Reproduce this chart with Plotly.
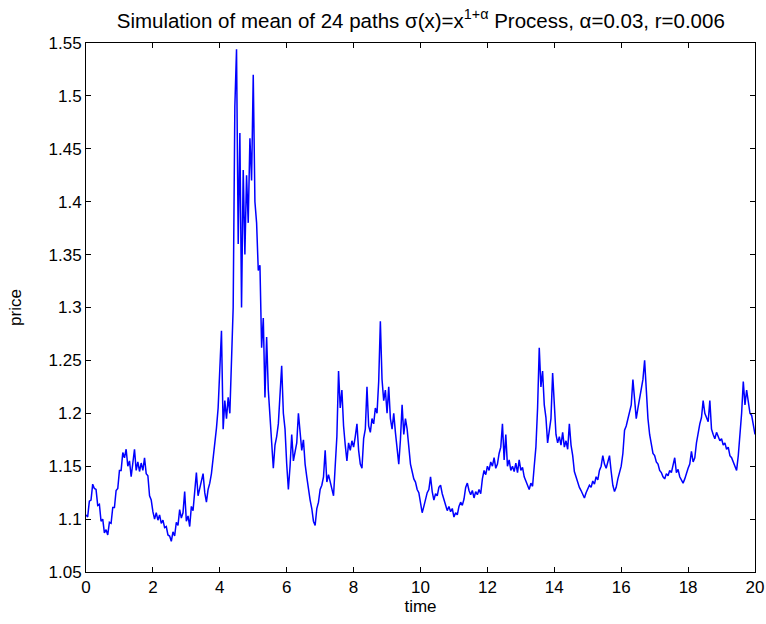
import plotly.graph_objects as go

# time grid (step 0.05) and mean price
time = [round(i * 0.05, 2) for i in range(401)]

price = [
    # 0.00 - 0.95
    1.104, 1.102, 1.117, 1.118, 1.133, 1.129, 1.128, 1.113, 1.114, 1.098,
    1.100, 1.087, 1.090, 1.085, 1.097, 1.096, 1.111, 1.111, 1.127, 1.129,
    # 1.00 - 1.95
    1.146, 1.146, 1.163, 1.158, 1.166, 1.150, 1.155, 1.140, 1.153, 1.166,
    1.146, 1.154, 1.145, 1.153, 1.146, 1.158, 1.143, 1.141, 1.122, 1.118,
    # 2.00 - 2.95
    1.107, 1.100, 1.106, 1.099, 1.104, 1.096, 1.099, 1.092, 1.093, 1.085,
    1.084, 1.079, 1.088, 1.084, 1.097, 1.094, 1.109, 1.101, 1.106, 1.126,
    # 3.00 - 3.95
    1.098, 1.103, 1.093, 1.112, 1.108, 1.124, 1.144, 1.122, 1.130, 1.138,
    1.143, 1.125, 1.116, 1.128, 1.134, 1.143, 1.156, 1.172, 1.186, 1.205,
    # 4.00 - 4.95
    1.248, 1.278, 1.185, 1.212, 1.195, 1.215, 1.200, 1.262, 1.300, 1.490,
    1.544, 1.360, 1.465, 1.300, 1.430, 1.350, 1.425, 1.380, 1.460, 1.420,
    # 5.00 - 5.95
    1.520, 1.400, 1.380, 1.335, 1.340, 1.262, 1.290, 1.215, 1.272, 1.222,
    1.196, 1.178, 1.148, 1.170, 1.178, 1.190, 1.215, 1.245, 1.200, 1.185,
    # 6.00 - 6.95
    1.152, 1.128, 1.150, 1.180, 1.155, 1.165, 1.172, 1.200, 1.178, 1.165,
    1.175, 1.152, 1.140, 1.128, 1.118, 1.110, 1.098, 1.094, 1.110, 1.116,
    # 7.00 - 7.95
    1.128, 1.132, 1.140, 1.165, 1.135, 1.142, 1.136, 1.128, 1.122, 1.150,
    1.178, 1.240, 1.205, 1.222, 1.188, 1.170, 1.155, 1.172, 1.165, 1.174,
    # 8.00 - 8.95
    1.168, 1.178, 1.190, 1.165, 1.152, 1.148, 1.176, 1.185, 1.225, 1.188,
    1.182, 1.195, 1.190, 1.205, 1.200, 1.230, 1.287, 1.232, 1.212, 1.222,
    # 9.00 - 9.95
    1.200, 1.225, 1.195, 1.185, 1.200, 1.182, 1.165, 1.152, 1.175, 1.208,
    1.180, 1.195, 1.185, 1.165, 1.152, 1.145, 1.138, 1.135, 1.128, 1.125,
    # 10.00 - 10.95
    1.115, 1.106, 1.112, 1.118, 1.125, 1.128, 1.140, 1.126, 1.118, 1.124,
    1.122, 1.130, 1.132, 1.124, 1.118, 1.114, 1.108, 1.112, 1.107, 1.110,
    # 11.00 - 11.95
    1.102, 1.106, 1.104, 1.112, 1.116, 1.113, 1.119, 1.130, 1.134, 1.127,
    1.123, 1.127, 1.120, 1.126, 1.123, 1.128, 1.124, 1.138, 1.146, 1.142,
    # 12.00 - 12.95
    1.150, 1.146, 1.154, 1.150, 1.158, 1.148, 1.152, 1.162, 1.168, 1.190,
    1.156, 1.180, 1.150, 1.156, 1.146, 1.150, 1.145, 1.153, 1.144, 1.156,
    # 13.00 - 13.95
    1.146, 1.149, 1.140, 1.136, 1.132, 1.128, 1.134, 1.131, 1.150, 1.168,
    1.205, 1.262, 1.225, 1.240, 1.208, 1.196, 1.172, 1.185, 1.195, 1.238,
    # 14.00 - 14.95
    1.205, 1.180, 1.172, 1.178, 1.170, 1.182, 1.168, 1.174, 1.166, 1.190,
    1.170, 1.160, 1.145, 1.140, 1.134, 1.130, 1.127, 1.124, 1.120, 1.125,
    # 15.00 - 15.95
    1.128, 1.132, 1.130, 1.136, 1.133, 1.140, 1.137, 1.146, 1.150, 1.160,
    1.152, 1.148, 1.154, 1.160, 1.145, 1.132, 1.126, 1.130, 1.138, 1.145,
    # 16.00 - 16.95
    1.150, 1.162, 1.184, 1.188, 1.194, 1.200, 1.208, 1.232, 1.212, 1.195,
    1.205, 1.215, 1.225, 1.232, 1.250, 1.215, 1.195, 1.180, 1.172, 1.162,
    # 17.00 - 17.95
    1.160, 1.154, 1.152, 1.146, 1.144, 1.140, 1.138, 1.143, 1.141, 1.146,
    1.144, 1.150, 1.158, 1.144, 1.147, 1.140, 1.137, 1.134, 1.138, 1.144,
    # 18.00 - 18.95
    1.148, 1.152, 1.164, 1.154, 1.158, 1.172, 1.182, 1.190, 1.196, 1.212,
    1.200, 1.196, 1.192, 1.212, 1.185, 1.180, 1.176, 1.182, 1.178, 1.174,
    # 19.00 - 20.00
    1.176, 1.170, 1.172, 1.166, 1.168, 1.160, 1.158, 1.154, 1.150, 1.146,
    1.160, 1.178, 1.200, 1.230, 1.208, 1.222, 1.212, 1.200, 1.198, 1.188,
    1.180,
]

x_tickvals = [0, 2, 4, 6, 8, 10, 12, 14, 16, 18, 20]
y_tickvals = [1.05, 1.1, 1.15, 1.2, 1.25, 1.3, 1.35, 1.4, 1.45, 1.5, 1.55]
y_ticktext = ["1.05", "1.1", "1.15", "1.2", "1.25", "1.3", "1.35", "1.4", "1.45", "1.5", "1.55"]

FONT = "Liberation Sans, Arial, sans-serif"

fig = go.Figure()
fig.add_trace(go.Scatter(
    x=time, y=price, mode="lines",
    line=dict(color="#0000ff", width=1.5),
    showlegend=False,
))

axis_common = dict(
    showline=True, linecolor="black", linewidth=1, mirror="ticks",
    ticks="inside", ticklen=5, tickcolor="black", showgrid=False,
    zeroline=False, automargin=False,
    tickfont=dict(family=FONT, size=17, color="black"),
)

fig.update_layout(
    width=766, height=624,
    paper_bgcolor="white", plot_bgcolor="white",
    margin=dict(l=86, r=11, t=43, b=52, autoexpand=False),
    title=dict(
        text="Simulation of mean of 24 paths σ(x)=x<sup>1+α</sup> Process, α=0.03, r=0.006",
        x=0.5493, xanchor="center", y=0.9665, yanchor="middle",
        font=dict(family=FONT, size=20.5, color="black"),
    ),
    xaxis=dict(range=[0, 20], tickvals=x_tickvals,
               title=dict(text="time", standoff=2, font=dict(family=FONT, size=17, color="black")),
               **axis_common),
    yaxis=dict(range=[1.05, 1.55], tickvals=y_tickvals, ticktext=y_ticktext,
               title=dict(text="price", standoff=22, font=dict(family=FONT, size=17, color="black")),
               **axis_common),
)

fig.write_html(
    "out.html",
    config={"displayModeBar": False},
    post_script="document.body.style.margin='0px';document.body.style.overflow='hidden';",
)
